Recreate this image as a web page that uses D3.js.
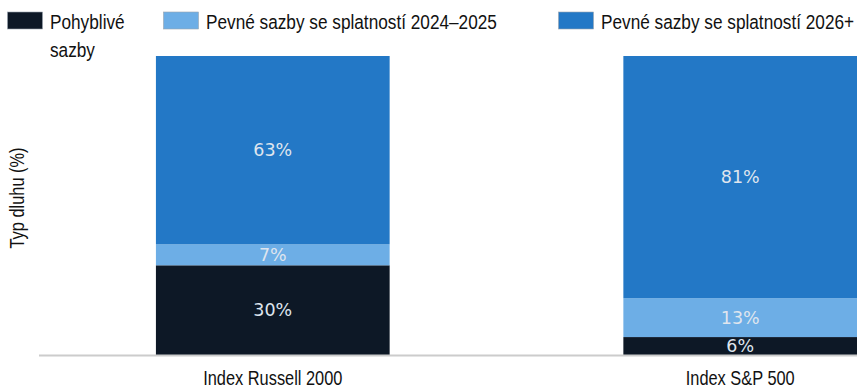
<!DOCTYPE html>
<html>
<head>
<meta charset="utf-8">
<script src="https://cdn.jsdelivr.net/npm/d3@7/dist/d3.min.js"></script>
<style>
 body { margin: 0; background: #fff; }
 svg { display: block; }
</style>
</head>
<body>
<div id="chart"></div>
<script>
var indexes = ["Index Russell 2000", "Index S&P 500"];
var seriesNames = ["Pohyblivé sazby", "Pevné sazby se splatností 2024–2025", "Pevné sazby se splatností 2026+"];
var floating = [30, 6];
var fixedShort = [7, 13];
var fixedLong = [63, 81];
var colors = ["#0d1826", "#6daee6", "#2378c6"];

var svgWidth = 857;
var svgHeight = 389;
var narrow = "'Liberation Sans', Arial, sans-serif";

var svg = d3.select("#chart")
  .append("svg")
    .attr("width", svgWidth)
    .attr("height", svgHeight);

// stack the three debt types per index
var rows = indexes.map(function (name, i) {
  return { name: name, s0: floating[i], s1: fixedShort[i], s2: fixedLong[i] };
});
var stack = d3.stack().keys(["s0", "s1", "s2"]);
var layers = stack(rows);

var x = d3.scaleBand()
  .domain(indexes)
  .range([40, 973])
  .paddingInner(0.5)
  .paddingOuter(0.248);

var y = d3.scaleLinear()
  .domain([0, 100])
  .range([355, 56]);

// bars
var layer = svg.selectAll(".layer")
  .data(layers)
  .enter()
  .append("g")
    .attr("class", "layer")
    .attr("fill", function (d, i) { return colors[i]; });

layer.selectAll("rect")
  .data(function (d) { return d; })
  .enter()
  .append("rect")
    .attr("x", function (d) { return x(d.data.name); })
    .attr("y", function (d) { return y(d[1]); })
    .attr("width", x.bandwidth())
    .attr("height", function (d) { return y(d[0]) - y(d[1]); });

layer.selectAll("text")
  .data(function (d) { return d; })
  .enter()
  .append("text")
    .attr("x", function (d) { return x(d.data.name) + x.bandwidth() / 2; })
    .attr("y", function (d) { return (y(d[0]) + y(d[1])) / 2; })
    .attr("dy", "0.36em")
    .attr("text-anchor", "middle")
    .style("font-family", "'DejaVu Sans', sans-serif")
    .style("font-size", "17.5px")
    .style("fill", "#dfe5ee")
    .text(function (d) { return (d[1] - d[0]) + "%"; });

// baseline
svg.append("line")
  .attr("x1", 39)
  .attr("x2", svgWidth)
  .attr("y1", y(0) + 0.5)
  .attr("y2", y(0) + 0.5)
  .attr("stroke", "#cccccc")
  .attr("stroke-width", 2);

// x axis labels (narrow font look)
svg.selectAll(".xlab")
  .data(indexes)
  .enter()
  .append("text")
    .attr("class", "xlab")
    .attr("transform", function (d) {
      return "translate(" + (x(d) + x.bandwidth() / 2) + ",385) scale(0.82,1)";
    })
    .attr("text-anchor", "middle")
    .style("font-family", narrow)
    .style("font-size", "20px")
    .style("fill", "#111")
    .text(function (d) { return d; });

// y axis title
svg.append("text")
  .attr("transform", "translate(24,198) rotate(-90) scale(0.82,1)")
  .attr("text-anchor", "middle")
  .style("font-family", narrow)
  .style("font-size", "20px")
  .style("fill", "#111")
  .text("Typ dluhu (%)");

// legend
var legendX = [7, 163, 558];
var legendLines = [["Pohyblivé", "sazby"], [seriesNames[1]], [seriesNames[2]]];
var legend = svg.selectAll(".legend")
  .data(seriesNames)
  .enter()
  .append("g")
    .attr("class", "legend")
    .attr("transform", function (d, i) { return "translate(" + legendX[i] + ",0)"; });

legend.append("rect")
  .attr("x", 0.5)
  .attr("y", 12)
  .attr("width", 35)
  .attr("height", 17)
  .attr("fill", function (d, i) { return colors[i]; })
  .attr("stroke", "#9aa4b0")
  .attr("stroke-width", 0.6);

legend.each(function (d, i) {
  var g = d3.select(this);
  legendLines[i].forEach(function (line, j) {
    g.append("text")
      .attr("transform", "translate(43," + (28.5 + j * 28) + ") scale(0.84,1)")
      .style("font-family", narrow)
      .style("font-size", "20.5px")
      .style("fill", "#111")
      .text(line);
  });
});
</script>
</body>
</html>
